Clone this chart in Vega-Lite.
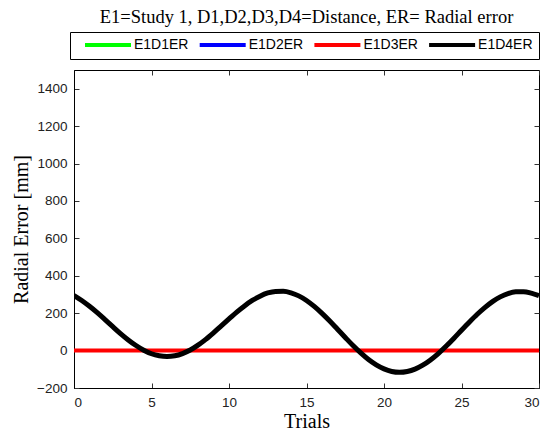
{
  "$schema": "https://vega.github.io/schema/vega-lite/v6.json",
  "width": 465,
  "height": 318,
  "autosize": "none",
  "padding": {"left": 74, "top": 70, "right": 7, "bottom": 44},
  "background": "white",
  "title": {
    "text": "E1=Study 1, D1,D2,D3,D4=Distance, ER= Radial error",
    "anchor": "middle",
    "font": "Liberation Serif",
    "fontSize": 18.5,
    "fontWeight": "normal",
    "color": "black",
    "offset": 5
  },
  "config": {
    "view": {"stroke": "black", "strokeWidth": 1},
    "axis": {
      "labelFont": "Liberation Sans",
      "labelFontSize": 13.5,
      "labelColor": "#222",
      "titleFont": "Liberation Serif",
      "titleFontSize": 20,
      "titleFontWeight": "normal",
      "titleColor": "black",
      "grid": false,
      "domainColor": "black",
      "tickColor": "#333",
      "tickSize": -5,
      "labelPadding": 12
    },
    "legend": {
      "orient": "none",
      "legendX": -4,
      "legendY": -38,
      "direction": "horizontal",
      "columns": 4,
      "symbolType": "M-4.6,0H4.6",
      "symbolSize": 100,
      "symbolStrokeWidth": 4,
      "symbolOffset": 25,
      "labelOffset": 19,
      "columnPadding": 1.7,
      "padding": 6,
      "strokeColor": "black",
      "fillColor": "white",
      "labelFont": "Liberation Sans",
      "labelFontSize": 14,
      "labelColor": "black"
    }
  },
  "datasets": {
    "flat": [
      {"series": "E1D1ER", "trial": 0, "error": 0}, {"series": "E1D1ER", "trial": 5, "error": 0}, {"series": "E1D1ER", "trial": 10, "error": 0}, {"series": "E1D1ER", "trial": 15, "error": 0}, {"series": "E1D1ER", "trial": 20, "error": 0}, {"series": "E1D1ER", "trial": 25, "error": 0}, {"series": "E1D1ER", "trial": 30, "error": 0},
      {"series": "E1D2ER", "trial": 0, "error": 0}, {"series": "E1D2ER", "trial": 5, "error": 0}, {"series": "E1D2ER", "trial": 10, "error": 0}, {"series": "E1D2ER", "trial": 15, "error": 0}, {"series": "E1D2ER", "trial": 20, "error": 0}, {"series": "E1D2ER", "trial": 25, "error": 0}, {"series": "E1D2ER", "trial": 30, "error": 0}
    ],
    "red": [
      {"series": "E1D3ER", "trial": 0, "error": 0}, {"series": "E1D3ER", "trial": 5, "error": 0}, {"series": "E1D3ER", "trial": 10, "error": 0}, {"series": "E1D3ER", "trial": 15, "error": 0}, {"series": "E1D3ER", "trial": 20, "error": 0}, {"series": "E1D3ER", "trial": 25, "error": 0}, {"series": "E1D3ER", "trial": 30, "error": 0}
    ],
    "curve": [
      {"series": "E1D4ER", "trial": 0, "error": 294.5}, {"series": "E1D4ER", "trial": 0.5, "error": 268}, {"series": "E1D4ER", "trial": 1, "error": 237}, {"series": "E1D4ER", "trial": 1.5, "error": 203}, {"series": "E1D4ER", "trial": 2, "error": 166}, {"series": "E1D4ER", "trial": 2.5, "error": 128}, {"series": "E1D4ER", "trial": 3, "error": 91}, {"series": "E1D4ER", "trial": 3.5, "error": 57}, {"series": "E1D4ER", "trial": 4, "error": 27}, {"series": "E1D4ER", "trial": 4.5, "error": 2}, {"series": "E1D4ER", "trial": 5, "error": -17}, {"series": "E1D4ER", "trial": 5.5, "error": -28}, {"series": "E1D4ER", "trial": 6, "error": -32}, {"series": "E1D4ER", "trial": 6.5, "error": -28}, {"series": "E1D4ER", "trial": 7, "error": -16}, {"series": "E1D4ER", "trial": 7.5, "error": 3}, {"series": "E1D4ER", "trial": 8, "error": 29}, {"series": "E1D4ER", "trial": 8.5, "error": 60}, {"series": "E1D4ER", "trial": 9, "error": 95}, {"series": "E1D4ER", "trial": 9.5, "error": 132}, {"series": "E1D4ER", "trial": 10, "error": 169}, {"series": "E1D4ER", "trial": 10.5, "error": 206}, {"series": "E1D4ER", "trial": 11, "error": 239}, {"series": "E1D4ER", "trial": 11.5, "error": 268}, {"series": "E1D4ER", "trial": 12, "error": 291}, {"series": "E1D4ER", "trial": 12.5, "error": 308}, {"series": "E1D4ER", "trial": 13, "error": 316.5}, {"series": "E1D4ER", "trial": 13.5, "error": 317}, {"series": "E1D4ER", "trial": 14, "error": 309}, {"series": "E1D4ER", "trial": 14.5, "error": 292.5}, {"series": "E1D4ER", "trial": 15, "error": 268}, {"series": "E1D4ER", "trial": 15.5, "error": 236}, {"series": "E1D4ER", "trial": 16, "error": 199}, {"series": "E1D4ER", "trial": 16.5, "error": 158}, {"series": "E1D4ER", "trial": 17, "error": 114}, {"series": "E1D4ER", "trial": 17.5, "error": 70}, {"series": "E1D4ER", "trial": 18, "error": 27}, {"series": "E1D4ER", "trial": 18.5, "error": -12.5}, {"series": "E1D4ER", "trial": 19, "error": -48}, {"series": "E1D4ER", "trial": 19.5, "error": -76.5}, {"series": "E1D4ER", "trial": 20, "error": -98}, {"series": "E1D4ER", "trial": 20.5, "error": -111.5}, {"series": "E1D4ER", "trial": 21, "error": -116}, {"series": "E1D4ER", "trial": 21.5, "error": -111.5}, {"series": "E1D4ER", "trial": 22, "error": -99}, {"series": "E1D4ER", "trial": 22.5, "error": -78}, {"series": "E1D4ER", "trial": 23, "error": -50}, {"series": "E1D4ER", "trial": 23.5, "error": -16}, {"series": "E1D4ER", "trial": 24, "error": 23}, {"series": "E1D4ER", "trial": 24.5, "error": 65}, {"series": "E1D4ER", "trial": 25, "error": 109}, {"series": "E1D4ER", "trial": 25.5, "error": 152}, {"series": "E1D4ER", "trial": 26, "error": 193}, {"series": "E1D4ER", "trial": 26.5, "error": 230}, {"series": "E1D4ER", "trial": 27, "error": 262}, {"series": "E1D4ER", "trial": 27.5, "error": 287}, {"series": "E1D4ER", "trial": 28, "error": 305}, {"series": "E1D4ER", "trial": 28.5, "error": 314}, {"series": "E1D4ER", "trial": 29, "error": 315}, {"series": "E1D4ER", "trial": 29.5, "error": 307}, {"series": "E1D4ER", "trial": 30, "error": 293}
    ]
  },
  "encoding": {
    "color": {"field": "series", "type": "nominal",
              "scale": {"domain": ["E1D1ER", "E1D2ER", "E1D3ER", "E1D4ER"], "range": ["#00ff00", "#0000ff", "#ff0000", "#000000"]},
              "legend": {"title": null}}
  },
  "layer": [
    {
      "data": {"name": "flat"},
      "mark": {"type": "line", "strokeWidth": 2.5, "clip": true},
      "encoding": {
        "x": {"field": "trial", "type": "quantitative", "scale": {"domain": [0, 30], "nice": false, "zero": false},
              "axis": {"orient": "bottom", "title": "Trials", "values": [0, 5, 10, 15, 20, 25, 30], "titlePadding": 3}},
        "y": {"field": "error", "type": "quantitative", "scale": {"domain": [-200, 1500], "nice": false, "zero": false},
              "axis": {"orient": "left", "title": "Radial Error [mm]", "format": "d", "values": [-200, 0, 200, 400, 600, 800, 1000, 1200, 1400], "titlePadding": 5}}
      }
    },
    {
      "data": {"name": "red"},
      "mark": {"type": "line", "strokeWidth": 4, "clip": true},
      "encoding": {
        "x": {"field": "trial", "type": "quantitative", "axis": null},
        "y": {"field": "error", "type": "quantitative", "axis": null}
      }
    },
    {
      "data": {"name": "curve"},
      "mark": {"type": "line", "strokeWidth": 5, "interpolate": "monotone", "clip": true},
      "encoding": {
        "x": {"field": "trial", "type": "quantitative",
              "axis": {"orient": "top", "title": null, "labels": false, "domain": false, "values": [0, 5, 10, 15, 20, 25, 30]}},
        "y": {"field": "error", "type": "quantitative",
              "axis": {"orient": "right", "title": null, "labels": false, "domain": false, "values": [-200, 0, 200, 400, 600, 800, 1000, 1200, 1400]}}
      }
    }
  ],
  "resolve": {"axis": {"x": "independent", "y": "independent"}}
}
